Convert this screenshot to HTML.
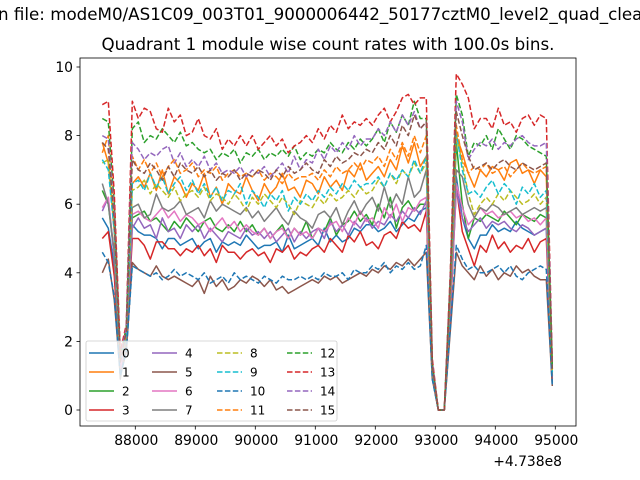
<!DOCTYPE html>
<html><head><meta charset="utf-8"><style>
body{margin:0;background:#fff}
svg{display:block;font-family:"DejaVu Sans","Liberation Sans",sans-serif}
</style></head><body>
<svg id="c" width="640" height="480" xmlns="http://www.w3.org/2000/svg">
<text x="-2" y="20" font-size="16.7">n file: modeM0/AS1C09_003T01_9000006442_50177cztM0_level2_quad_clean.evt</text>
<text x="328" y="50" font-size="16.7" text-anchor="middle">Quadrant 1 module wise count rates with 100.0s bins.</text>
<g id="plot"></g>
</svg>
<script>
const xTicks=[88000,89000,90000,91000,92000,93000,94000,95000];
const yTicks=[0,2,4,6,8,10];
const offsetLabel="+4.738e8";
const seriesNames=["0","1","2","3","4","5","6","7","8","9","10","11","12","13","14","15"];
const xStart=87450, xStep=100;
const s0=[5.6,5.3,4.2,1.2,2.0, 5.4,5.2,5.1,5.1,5.0,4.7,5.0,5.0,4.8,4.9, 5.0,4.7,4.9,5.0,4.6,4.9,4.8,4.9,4.8,5.1, 4.9,4.7,4.8,4.8,4.9,4.6,5.1,4.7,4.8,4.9, 5.0,4.8,5.3,4.9,5.1,4.9,5.0,5.3,5.2,5.4, 5.4,5.2,5.3,5.5,5.2,5.4,5.6,5.5,5.8,5.9, 1.0,0,0,2.8, 6.8,5.6,5.0,4.7,5.1,5.1,5.4,5.2,5.3,5.2,5.5,5.3,5.2,5.1,5.2,5.3, 0.8];
const s1=[7.8,7.2,5.2,1.5,2.2, 6.6,6.8,6.5,6.9,6.4,7.0,6.3,6.8,6.6,6.2, 6.6,6.4,6.9,6.2,6.5,6.0,6.6,6.4,6.3,6.8, 6.4,6.1,6.6,6.3,6.5,6.9,6.4,6.5,6.2,6.7, 6.6,6.3,6.8,6.5,6.7,6.4,7.0,6.8,7.2,6.7, 6.9,7.1,6.8,7.3,7.0,7.7,7.2,7.8,7.1,7.4, 1.3,0,0,3.4, 8.0,7.5,6.9,6.5,7.0,6.8,7.1,7.0,6.7,7.2,7.3,6.9,7.0,6.6,7.0,6.8, 1.2];
const s2=[6.4,6.0,4.5,1.3,2.1, 5.6,5.7,5.8,5.5,5.6,5.4,5.2,5.5,5.3,5.6, 5.4,5.2,5.5,5.6,5.3,5.2,5.4,5.2,5.5,5.2, 5.4,5.1,5.3,5.0,5.2,5.4,5.0,5.3,5.1,5.5, 5.0,5.3,5.2,5.6,5.1,5.4,5.5,5.8,5.5,5.7, 5.4,6.0,5.6,6.2,5.3,5.9,6.1,5.8,6.0,6.0, 1.1,0,0,3.1, 7.8,6.0,5.0,5.6,5.5,5.7,5.6,5.5,5.8,5.6,5.4,5.7,5.6,5.5,5.7,5.6, 1.0];
const s3=[5.0,5.2,3.9,1.1,1.9, 5.0,5.0,4.8,4.4,4.9,4.9,4.7,4.7,4.5,4.7, 4.6,4.8,4.5,4.7,4.3,4.8,4.6,4.6,4.4,4.6, 4.7,4.5,4.6,4.3,4.7,4.6,4.8,4.4,4.6,4.5, 4.7,4.8,4.6,5.0,4.8,4.6,5.1,4.9,5.2,4.8, 4.9,4.7,5.1,5.2,5.0,5.5,5.3,5.4,5.2,5.8, 1.0,0,0,2.7, 6.5,5.2,4.7,4.2,4.8,4.6,5.1,4.7,4.9,4.6,4.8,4.7,5.0,4.6,4.9,5.0, 0.9];
const s4=[5.8,6.2,4.4,1.2,2.0, 5.3,5.6,5.3,5.4,5.0,5.6,5.2,5.3,5.0,5.4, 5.2,5.4,5.0,5.3,5.1,4.9,5.2,5.1,5.0,5.3, 5.1,5.2,5.0,5.2,4.9,5.1,5.3,4.9,5.2,5.0, 5.2,5.3,5.0,5.5,5.2,5.4,5.1,5.5,5.3,5.6, 5.3,5.5,5.4,5.7,5.5,5.8,5.6,5.9,5.7,6.1, 1.1,0,0,2.9, 6.4,5.6,5.2,5.4,5.6,5.3,5.5,5.4,5.5,5.3,5.2,5.4,5.3,5.1,5.2,5.3, 0.9];
const s5=[4.0,4.4,3.2,1.0,1.7, 4.3,4.1,4.0,3.9,4.2,3.9,3.8,3.9,3.8,3.7, 3.6,3.8,3.4,3.9,3.6,3.8,3.5,3.6,3.8,3.7, 3.9,3.8,3.6,3.8,3.5,3.6,3.4,3.5,3.6,3.7, 3.8,3.7,3.9,3.8,3.9,3.7,3.8,3.9,4.0,3.9, 4.1,4.0,4.2,4.1,4.3,4.2,4.4,4.2,4.4,4.6, 0.9,0,0,2.3, 4.6,4.2,4.0,3.8,4.2,3.9,4.1,3.8,4.0,3.9,4.2,4.0,4.1,3.9,3.8,3.8, 0.7];
const s6=[5.9,6.2,4.5,1.2,2.0, 5.7,5.8,5.6,5.5,5.7,5.9,5.6,5.8,5.5,5.7, 5.6,5.4,5.5,5.2,5.4,5.6,5.3,5.5,5.2,5.4, 5.2,5.1,5.3,5.0,5.2,5.3,5.0,5.3,5.1,5.2, 5.0,5.3,5.2,5.4,5.5,5.2,5.6,5.4,5.8,5.5, 5.6,5.3,5.9,5.6,6.0,5.5,5.9,5.8,6.1,6.2, 1.1,0,0,3.0, 6.6,5.9,5.4,5.6,5.9,5.7,5.8,5.6,5.7,5.8,5.6,5.7,5.5,5.6,5.4,5.6, 1.0];
const s7=[6.6,6.0,4.6,0.9,2.0, 5.9,6.0,5.6,5.7,6.3,5.9,5.8,5.9,6.1,5.7, 5.8,5.9,5.6,6.1,5.8,6.0,5.9,5.8,5.7,5.9, 5.6,5.8,5.5,5.7,5.9,5.6,5.4,5.8,5.6,5.5, 5.3,5.7,5.8,5.6,5.9,5.4,5.8,6.1,5.7,6.0, 6.2,5.8,6.5,5.9,6.3,6.0,6.8,6.2,6.4,7.0, 1.1,0,0,3.2, 7.0,6.8,6.0,5.6,5.9,5.8,6.0,5.9,5.7,5.8,5.9,5.7,5.8,5.9,5.8,5.9, 1.0];
const s8=[7.2,7.3,5.3,1.4,2.2, 6.4,6.5,6.7,6.3,6.6,6.4,6.2,6.5,6.1,6.3, 6.4,6.2,6.5,6.1,6.3,6.2,6.0,6.3,6.1,5.8, 6.2,6.0,6.3,6.1,5.9,6.2,6.0,5.7,6.1,6.0, 5.9,6.2,6.0,6.3,6.1,6.2,6.4,6.2,6.5,6.3, 6.4,6.7,6.5,6.9,6.6,7.0,6.8,7.2,6.9,7.2, 1.2,0,0,3.5, 8.0,7.2,6.3,5.7,6.0,6.2,6.0,6.3,6.1,6.4,6.2,6.0,6.1,6.3,6.0,6.2, 1.1];
const s9=[7.3,7.0,5.2,1.4,2.2, 6.6,6.7,6.4,6.9,6.5,6.8,6.3,6.6,6.8,6.4, 6.7,6.3,6.6,6.2,6.5,6.1,6.4,6.3,6.6,6.0, 6.4,6.2,5.9,6.3,6.1,6.4,5.8,6.2,6.0,6.3, 6.1,6.4,6.2,6.5,6.3,6.6,6.4,6.7,6.5,6.6, 6.6,6.8,6.5,6.9,6.7,7.0,6.8,7.3,6.9,7.4, 1.2,0,0,3.5, 8.1,7.0,6.3,6.4,6.2,6.5,6.7,6.3,6.6,6.4,6.0,6.5,6.3,6.6,6.2,6.4, 1.1];
const s10=[4.6,4.3,3.3,1.0,1.7, 4.2,4.1,4.0,3.9,4.0,3.8,3.9,4.1,3.9,4.0, 3.9,3.8,4.0,3.7,3.8,3.9,3.7,4.0,3.8,3.9, 3.8,3.7,3.9,3.8,3.7,3.9,3.8,3.8,3.9,3.8, 3.9,3.8,4.0,3.9,3.9,4.0,3.8,4.1,4.0,4.0, 4.2,4.1,4.3,4.0,4.2,4.1,4.3,4.1,4.2,4.8, 0.9,0,0,2.4, 4.8,4.4,4.1,4.2,4.0,4.0,4.1,4.2,4.0,4.2,3.9,3.8,4.0,4.1,4.2,4.1, 0.7];
const s11=[7.5,8.0,5.6,1.5,2.3, 7.4,7.0,7.3,6.9,7.2,6.8,7.1,7.3,6.9,7.0, 7.2,6.8,7.0,6.9,7.1,6.7,6.9,7.0,6.8,6.9, 6.8,7.0,6.7,6.9,6.8,6.6,6.9,6.7,6.8,6.8, 6.9,6.7,7.0,6.8,7.1,6.9,7.0,7.2,7.0,7.3, 7.2,7.4,7.1,7.6,7.3,7.8,7.4,8.0,7.5,8.0, 1.3,0,0,3.6, 8.3,7.3,6.9,7.1,7.0,7.2,6.9,7.0,7.1,6.8,7.0,7.2,7.0,6.9,7.0,7.1, 1.2];
const s12=[8.5,8.4,6.0,1.6,2.4, 8.2,8.4,7.8,8.0,7.9,8.2,8.0,7.8,8.1,7.7, 7.8,7.6,7.5,7.6,7.3,7.5,7.4,7.6,7.2,7.5, 7.4,7.6,7.3,7.5,7.4,7.6,7.4,7.7,7.3,7.5, 7.4,7.6,7.5,7.8,7.6,7.5,7.8,7.6,7.9,7.7, 7.9,8.2,7.8,8.4,8.1,8.6,8.3,9.0,8.5,8.5, 1.4,0,0,3.9, 9.2,8.6,7.4,7.8,7.7,8.0,7.6,8.2,7.9,7.6,8.0,7.9,7.7,7.6,7.5,7.4, 1.3];
const s13=[8.9,9.0,6.3,1.7,2.5, 9.0,8.5,8.8,8.7,8.2,8.1,8.8,8.4,8.6,8.0, 8.1,8.5,8.0,7.9,8.2,7.6,7.9,7.7,8.0,7.7, 8.0,7.6,7.8,8.0,7.7,7.9,7.5,7.7,7.8,8.0, 7.8,8.2,7.9,8.3,8.1,8.6,8.2,8.4,8.3,8.5, 8.3,8.6,8.8,8.4,8.7,9.1,9.2,8.9,9.1,9.1, 1.5,0,0,4.0, 9.8,9.5,9.1,8.2,8.5,8.5,8.2,8.8,8.3,8.4,8.1,8.5,8.6,8.3,8.6,8.5, 1.4];
const s14=[8.0,7.9,5.7,1.5,2.4, 7.8,7.6,7.3,7.5,7.4,7.6,7.7,7.2,7.5,7.1, 7.3,7.1,7.4,7.0,7.2,6.9,7.0,6.9,7.1,6.8, 7.0,6.9,7.1,6.8,7.0,7.2,6.9,7.4,7.0,7.3, 7.2,7.6,7.3,7.7,7.5,7.8,7.6,8.0,7.7,7.9, 7.9,8.2,8.0,8.4,8.1,8.6,8.3,8.7,8.2,8.4, 1.4,0,0,3.8, 9.0,8.4,7.3,7.6,7.8,7.7,7.9,7.6,7.8,7.7,7.9,8.0,7.8,7.7,7.7,7.8, 1.3];
const s15=[7.8,7.6,5.5,1.4,2.3, 7.3,7.0,6.9,7.2,7.0,6.7,7.1,6.8,7.2,7.0, 6.9,7.1,6.8,7.0,6.7,6.9,6.8,7.0,6.7,6.9, 6.8,7.0,6.9,6.7,7.0,6.8,7.1,6.9,7.0,7.2, 7.0,6.9,7.3,7.1,7.4,7.2,7.3,7.5,7.4,7.6, 7.5,7.8,7.6,8.0,7.7,8.3,8.0,8.6,8.2,8.4, 1.3,0,0,3.7, 8.7,8.0,7.4,7.0,7.1,7.2,7.0,7.2,7.3,7.1,7.0,7.2,7.1,7.0,7.1,7.2, 1.2];
const allSeries=[s0,s1,s2,s3,s4,s5,s6,s7,s8,s9,s10,s11,s12,s13,s14,s15];

const colors=["#1f77b4","#ff7f0e","#2ca02c","#d62728","#9467bd","#8c564b","#e377c2","#7f7f7f","#bcbd22","#17becf"];
const L=80,R=576,T=58,B=426;
const X=v=>135.3+(v-88000)*0.06;
const Y=v=>410-v*34.3;
const NS="http://www.w3.org/2000/svg";
const g=document.getElementById('plot');
function mk(tag,attrs,parent){const e=document.createElementNS(NS,tag);for(const k in attrs)e.setAttribute(k,attrs[k]);(parent||g).appendChild(e);return e;}

allSeries.forEach((arr,si)=>{
  const pts=arr.map((v,i)=>X(xStart+i*xStep).toFixed(1)+","+Y(v).toFixed(1)).join(" ");
  const p=mk('polyline',{points:pts,fill:'none',stroke:colors[si%10],'stroke-width':1.5,'stroke-linejoin':'round'});
  if(si>=8)p.setAttribute('stroke-dasharray','5.5,2.4');
  
  
});

const fr=mk('rect',{x:L,y:T,width:R-L,height:B-T,fill:'none',stroke:'#000','stroke-width':0.8});



xTicks.forEach(t=>{
  const x=X(t);
  const tk=mk('line',{x1:x,x2:x,y1:B,y2:B+3.5,stroke:'#000','stroke-width':0.8});
  
  
  const tx=mk('text',{x:x+1,y:B+19,'font-size':13.9,'text-anchor':'middle'});
  tx.textContent=t;
  
  
});
yTicks.forEach(t=>{
  const y=Y(t);
  const tk=mk('line',{x1:L-3.5,x2:L,y1:y,y2:y,stroke:'#000','stroke-width':0.8});
  
  
  const tx=mk('text',{x:L-7,y:y+5,'font-size':13.9,'text-anchor':'end'});
  tx.textContent=t;
  
  
});
const off=mk('text',{x:562,y:466,'font-size':13.9,'text-anchor':'end'});
off.textContent=offsetLabel;



const lg=mk('g',{});


const lb=mk('rect',{x:86,y:341,width:251,height:80,rx:2,fill:'#fff','fill-opacity':0.8,stroke:'#ccc','stroke-width':0.8},lg);


const colX=[89,152,217,287], rowY=[353,372,391,410];
seriesNames.forEach((n,si)=>{
  const c=Math.floor(si/4), r=si%4;
  const e=mk('g',{},lg);
  
  
  const ln=mk('line',{x1:colX[c],x2:colX[c]+25,y1:rowY[r],y2:rowY[r],stroke:colors[si%10],'stroke-width':1.5},e);
  if(si>=8)ln.setAttribute('stroke-dasharray','5.5,2.4');
  const t=mk('text',{x:colX[c]+33,y:rowY[r]+4.5,'font-size':12},e);
  t.textContent=n;
});
</script>
</body></html>
